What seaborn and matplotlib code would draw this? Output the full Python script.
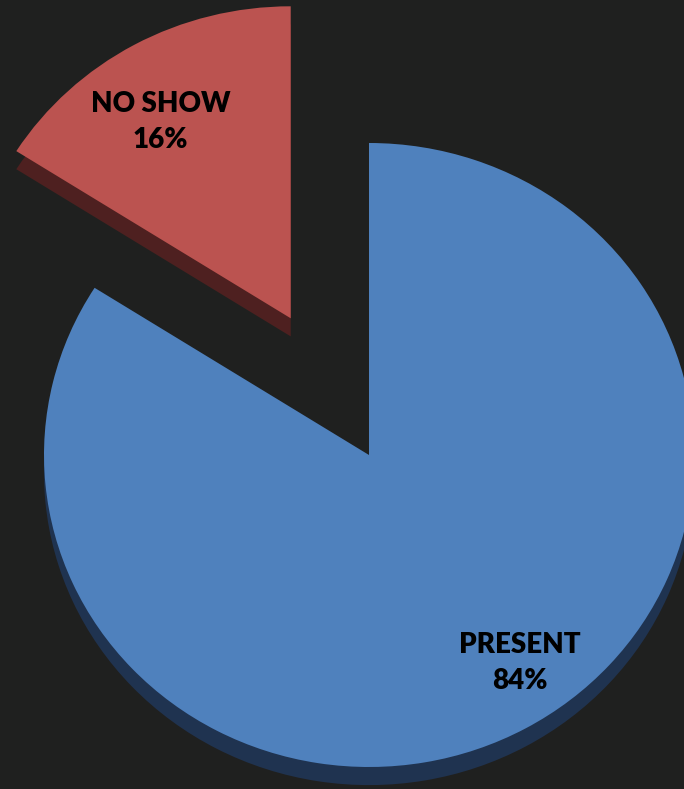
import matplotlib
matplotlib.use("Agg")
import matplotlib.pyplot as plt
import seaborn as sns

# Attendance split
categories = ["PRESENT", "NO SHOW"]
shares = [84, 16]
explode = [0.0, 0.5]

top_colors = ["#4F81BD", "#BB5350"]
side_colors = ["#1F3350", "#4E2020"]
bg = "#1F201F"

sns.set_style("dark", {"axes.facecolor": bg, "figure.facecolor": bg})
plt.rcParams["font.family"] = ["Lato", "DejaVu Sans"]

fig = plt.figure(figsize=(6.84, 7.89), dpi=100)
ax = fig.add_axes([0, 0, 1, 1])
ax.set_facecolor(bg)

depth = 0.058  # thickness of the pie's side, in axis units

# side of the disc: same pie shifted down in darker shades
ax.pie(shares, explode=explode, startangle=90, counterclock=False,
       colors=side_colors, center=(0, -depth), radius=1.0,
       wedgeprops=dict(linewidth=0), frame=True)
# top face
ax.pie(shares, explode=explode, startangle=90, counterclock=False,
       colors=top_colors, center=(0, 0), radius=1.0,
       wedgeprops=dict(linewidth=0), frame=True)

label_pos = [(0.465, -0.667), (-0.642, 1.067)]
for name, val, (x, y) in zip(categories, shares, label_pos):
    ax.text(x, y, f"{name}\n{val}%", ha="center", va="center",
            fontsize=20, fontweight="heavy", color="black", linespacing=1.45)

ax.set_aspect("auto")
ax.set_xlim(-369 / 325, 315 / 325)
ax.set_ylim(-334 / 312, 455 / 312)
ax.axis("off")

fig.savefig("out.png", dpi=100, facecolor=bg)
